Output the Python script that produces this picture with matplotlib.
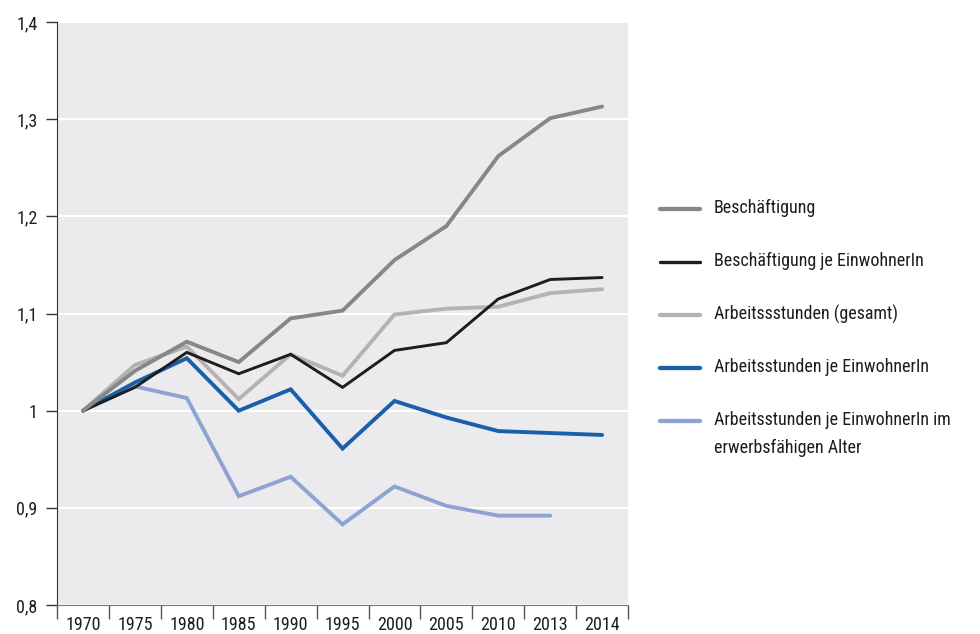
import numpy as np
import matplotlib
matplotlib.use("Agg")
import matplotlib.pyplot as plt
from matplotlib.lines import Line2D

plt.rcParams['font.family'] = ['Roboto Condensed', 'Archivo Narrow', 'PT Sans Narrow',
                               'Fira Sans Condensed', 'Liberation Sans Narrow', 'DejaVu Sans']

years = ["1970", "1975", "1980", "1985", "1990", "1995", "2000", "2005", "2010", "2013", "2014"]

beschaeftigung = [1.0, 1.041, 1.071, 1.050, 1.095, 1.103, 1.155, 1.190, 1.262, 1.301, 1.313]
besch_je_einw = [1.0, 1.024, 1.060, 1.038, 1.058, 1.024, 1.062, 1.070, 1.115, 1.135, 1.137]
stunden_gesamt = [1.0, 1.047, 1.066, 1.012, 1.058, 1.036, 1.099, 1.105, 1.107, 1.121, 1.125]
stunden_je_einw = [1.0, 1.029, 1.054, 1.000, 1.022, 0.961, 1.010, 0.993, 0.979, 0.977, 0.975]
stunden_erwerb = [1.0, 1.025, 1.013, 0.912, 0.932, 0.883, 0.922, 0.902, 0.892, 0.892, None]

series = [
    ("Beschäftigung", beschaeftigung, "#878787", 2.8),
    ("Beschäftigung je EinwohnerIn", besch_je_einw, "#1d1d1b", 2.1),
    ("Arbeitssstunden (gesamt)", stunden_gesamt, "#b3b3b3", 2.8),
    ("Arbeitsstunden je EinwohnerIn", stunden_je_einw, "#1b5ea9", 2.8),
    ("Arbeitsstunden je EinwohnerIn im\nerwerbsfähigen Alter", stunden_erwerb, "#8ea3d3", 2.8),
]

fig = plt.figure(figsize=(9.8, 6.34), dpi=100)
ax = fig.add_axes([0.0582, 0.0457, 0.5827, 0.9196])
ax.set_facecolor("#ebebed")

x = np.arange(len(years))
# draw in reverse so the first series ends up on top
for label, vals, color, lw in reversed(series):
    v = np.array([np.nan if val is None else val for val in vals], dtype=float)
    ax.plot(x, v, color=color, lw=lw, solid_capstyle="round", solid_joinstyle="miter")

ax.set_xlim(-0.5, len(years) - 0.5)
ax.set_ylim(0.8, 1.4)
yt = [0.8, 0.9, 1.0, 1.1, 1.2, 1.3, 1.4]
ax.set_yticks(yt)
ax.set_yticklabels([("%.1f" % t).replace(".", ",") if t != 1.0 else "1" for t in yt])
ax.yaxis.grid(True, color="white", lw=1.5)
ax.set_axisbelow(True)

ax.set_xticks(np.arange(len(years) + 1) - 0.5)
ax.set_xticklabels([])
ax.set_xticks(x, minor=True)
ax.set_xticklabels(years, minor=True)
ax.tick_params(axis="x", which="major", length=10, width=1, color="#555555")
ax.tick_params(axis="x", which="minor", length=0, pad=8, labelsize=13, labelcolor="#1d1d1b")
ax.tick_params(axis="y", length=8, width=1, color="#333333", pad=6, labelsize=13, labelcolor="#1d1d1b")

for s in ["top", "right"]:
    ax.spines[s].set_visible(False)
ax.spines["left"].set_color("#333333")
ax.spines["bottom"].set_color("#777777")

# legend drawn by hand so the handle sits on the first text line
ly = 1 - 209 / 634
for label, vals, color, lw in series:
    fig.add_artist(Line2D([660 / 980, 700 / 980], [ly, ly], color=color, lw=lw + 0.3,
                          solid_capstyle="round"))
    fig.text(714 / 980, ly + 10 / 634, label, fontsize=13, color="#1d1d1b", va="top",
             linespacing=1.7, transform=fig.transFigure)
    ly -= 53 / 634

plt.savefig("out.png", dpi=100)
